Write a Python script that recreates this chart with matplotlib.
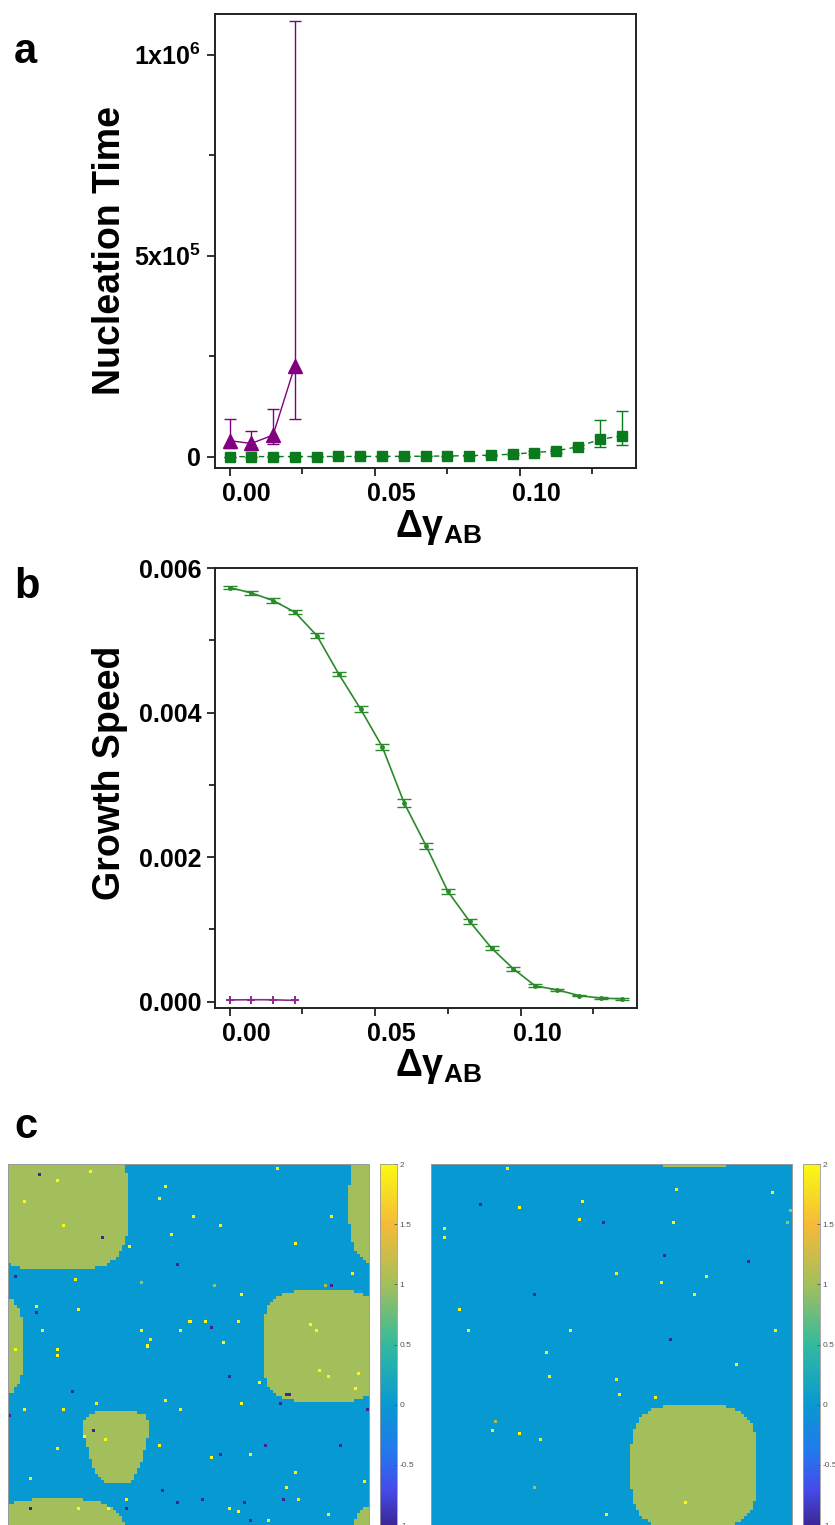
import numpy as np
import matplotlib
matplotlib.use("Agg")
import matplotlib.pyplot as plt
from matplotlib.colors import LinearSegmentedColormap
from matplotlib.ticker import FixedLocator, FormatStrFormatter
from matplotlib.transforms import ScaledTranslation

plt.rcParams['font.family'] = ['Liberation Sans', 'DejaVu Sans']
plt.rcParams['mathtext.fontset'] = 'custom'
plt.rcParams['mathtext.rm'] = 'Liberation Sans:bold'
plt.rcParams['mathtext.bf'] = 'Liberation Sans:bold'
plt.rcParams['mathtext.it'] = 'Liberation Sans:bold'
plt.rcParams['mathtext.default'] = 'bf'

# surface tension difference between species
d_gamma = [0.0, 0.0075, 0.015, 0.0225, 0.03, 0.0375, 0.045, 0.0525, 0.06, 0.0675,
           0.075, 0.0825, 0.09, 0.0975, 0.105, 0.1125, 0.12, 0.1275, 0.135]
d_gamma_slow = [0.0, 0.0075, 0.015, 0.0225]

# nucleation time
nuc_fast = [300, 400, 500, 500, 600, 700, 800, 900, 1100, 1400,
            1900, 2800, 4000, 6500, 10500, 14500, 25000, 43000, 52000]
nuc_fast_lo = [200, 200, 300, 300, 300, 400, 400, 500, 600, 700,
               900, 1200, 1600, 2500, 3500, 4500, 4000, 18000, 23000]
nuc_fast_hi = [200, 200, 300, 300, 300, 400, 400, 500, 600, 700,
               900, 1200, 1600, 2500, 3500, 4500, 4000, 48000, 62000]
nuc_slow = [40000, 33000, 54000, 226000]
nuc_slow_lo = [19000, 16000, 23000, 132000]
nuc_slow_hi = [53000, 31000, 66000, 858000]

# growth speed
speed_fast = [0.00573, 0.005656, 0.00555, 0.005388, 0.005065, 0.004535, 0.00405,
              0.003524, 0.002748, 0.002157, 0.001524, 0.001108, 0.00074, 0.000453,
              0.000217, 0.000162, 0.000083, 0.000047, 0.000037]
speed_fast_err = [0.000025, 0.000025, 0.000035, 0.00003, 0.00004, 0.00003, 0.000045,
                  0.000045, 0.00005, 0.00004, 0.000035, 0.000035, 0.00003, 0.00003,
                  0.00002, 0.000015, 0.00001, 0.00001, 0.00001]
speed_slow = [0.000022, 0.000025, 0.000024, 0.000015]

# lattice snapshots: domains as (col, row, half width, half height, taper)
grid_n = 120
left_domains = [(16.7, 13.3, 23.3, 22.0, 0.0),
                (104.8, 60.5, 20.2, 18.5, 0.0),
                (36.2, 94.2, 12.8, 12.2, 0.5)]
left_bright = [(27, 2), (16, 5), (5, 12), (18, 20), (89, 1), (52, 7), (50, 11), (61, 17),
               (70, 20), (54, 23), (40, 27), (95, 26), (107, 17), (114, 36), (22, 38),
               (77, 43), (9, 47), (23, 48), (11, 55), (44, 55), (57, 55), (60, 52),
               (65, 52), (76, 52), (47, 58), (46, 60), (71, 59), (16, 61), (16, 63),
               (2, 61), (83, 72), (77, 79), (52, 78), (57, 81), (18, 81), (5, 81),
               (29, 79), (50, 93), (16, 94), (7, 104), (80, 96), (67, 97), (95, 102),
               (92, 107), (96, 111), (118, 105), (39, 111), (33, 114), (73, 114),
               (76, 115), (86, 118), (106, 116), (100, 53), (102, 55), (103, 68),
               (106, 70), (116, 69), (115, 74), (25, 90), (32, 91), (23, 114)]
left_dark = [(10, 3), (31, 24), (56, 33), (2, 37), (9, 49), (67, 54), (73, 70), (21, 75),
             (92, 76), (93, 76), (90, 79), (85, 93), (110, 93), (70, 96), (51, 108),
             (56, 112), (64, 111), (78, 112), (91, 111), (39, 114), (80, 118), (0, 83),
             (119, 81), (107, 40), (28, 88), (7, 114)]
left_dim = [(44, 39), (68, 40), (105, 40)]

right_domains = [(87.3, 100.5, 21.0, 20.5, 0.0)]
right_bright = [(25, 1), (29, 14), (50, 12), (49, 18), (81, 8), (80, 19), (113, 9),
                (4, 21), (4, 24), (61, 36), (76, 39), (91, 37), (87, 43), (9, 48),
                (12, 55), (46, 55), (114, 55), (38, 62), (101, 66), (39, 70), (61, 71),
                (62, 76), (74, 77), (20, 88), (29, 89), (36, 91), (58, 116), (84, 112)]
right_dark = [(16, 13), (57, 19), (77, 30), (105, 32), (34, 43), (79, 58)]
right_dim = [(119, 15), (118, 19), (21, 85), (34, 107)]

parula = LinearSegmentedColormap.from_list('parula', [
    (0.0, (0.24, 0.15, 0.60)),
    (0.1, (0.27, 0.30, 0.92)),
    (0.2, (0.14, 0.47, 0.93)),
    (1 / 3, (0.03, 0.60, 0.82)),
    (0.5, (0.20, 0.73, 0.62)),
    (2 / 3, (0.64, 0.75, 0.36)),
    (0.833, (0.96, 0.73, 0.22)),
    (1.0, (0.98, 0.98, 0.07)),
])


def lattice(domains, bright, dark, dim, n=grid_n, p=3.5):
    rows, cols = np.mgrid[0:n, 0:n] + 0.5
    field = np.zeros((n, n))
    for cx, cy, hw, hh, taper in domains:
        dx = (cols - cx + n / 2) % n - n / 2
        dy = (rows - cy + n / 2) % n - n / 2
        t = np.clip((dy + hh) / (2 * hh), 0, 1)
        w = hw * (1 - taper * t)
        field[(np.abs(dx) / w) ** p + (np.abs(dy) / hh) ** p <= 1] = 1
    for c, r in dim:
        field[r, c] = 1
    for c, r in bright:
        field[r, c] = 2
    for c, r in dark:
        field[r, c] = -1
    return field


def style_axes(ax):
    for s in ax.spines.values():
        s.set_linewidth(1.4)
        s.set_color('#222222')
    ax.tick_params(which='both', direction='out', top=False, right=False,
                   width=1.3, color='#222222')
    ax.tick_params(which='major', length=6, labelsize=18, pad=4)
    ax.tick_params(which='minor', length=4)
    ax.xaxis.set_major_locator(FixedLocator([0.0, 0.05, 0.10]))
    ax.xaxis.set_minor_locator(FixedLocator([0.025, 0.075, 0.125]))
    ax.xaxis.set_major_formatter(FormatStrFormatter('%.2f'))
    ax.set_xlim(-0.005, 0.140)
    for lab in ax.get_xticklabels() + ax.get_yticklabels():
        lab.set_fontweight('bold')
    # x tick labels sit a little right of their ticks
    shift = ScaledTranslation(12 / 72, 0, ax.figure.dpi_scale_trans)
    for lab in ax.get_xticklabels():
        lab.set_transform(lab.get_transform() + shift)


fig = plt.figure(figsize=(8.35, 15.25), dpi=100)

# panel a: nucleation time
ax_a = fig.add_axes([0.2575, 0.6931, 0.5042, 0.2977])
ax_a.errorbar(d_gamma, nuc_fast, yerr=[nuc_fast_lo, nuc_fast_hi], color='#0a7a1c',
              ls=(0, (4, 3)), lw=1.0, marker='s', ms=7, capsize=4, elinewidth=1.0,
              capthick=1.0, zorder=3)
ax_a.errorbar(d_gamma_slow, nuc_slow, yerr=[nuc_slow_lo, nuc_slow_hi], color='#800080',
              ls='-', lw=1.0, marker='^', ms=10, capsize=4, elinewidth=1.0,
              capthick=1.0, zorder=4)
ax_a.set_ylim(-28000, 1.101e6)
ax_a.yaxis.set_major_locator(FixedLocator([0, 5e5, 1e6]))
ax_a.yaxis.set_minor_locator(FixedLocator([2.5e5, 7.5e5]))
ax_a.set_yticklabels(['0', r'5x10$^{5}$', r'1x10$^{6}$'])
style_axes(ax_a)
ax_a.set_ylabel('Nucleation Time', fontsize=27, fontweight='bold')
ax_a.yaxis.set_label_coords(-0.207, 0.48)
ax_a.set_xlabel(r'$\Delta\gamma_{AB}$', fontsize=27)
ax_a.xaxis.set_label_coords(0.53, -0.088)
ax_a.xaxis.label.set_va('top')

# panel b: growth speed
ax_b = fig.add_axes([0.2575, 0.3390, 0.5054, 0.2885])
ax_b.errorbar(d_gamma, speed_fast, yerr=speed_fast_err, color='#2a8a2a', ls='-', lw=1.2,
              marker='o', ms=2.5, capsize=5, elinewidth=1.0, capthick=1.0, zorder=3)
ax_b.plot(d_gamma_slow, speed_slow, color='#8a2a8a', lw=1.2, marker='+', ms=6,
          mew=1.4, zorder=4)
ax_b.set_ylim(-0.00009, 0.006)
ax_b.yaxis.set_major_locator(FixedLocator([0.0, 0.002, 0.004, 0.006]))
ax_b.yaxis.set_minor_locator(FixedLocator([0.001, 0.003, 0.005]))
ax_b.yaxis.set_major_formatter(FormatStrFormatter('%.3f'))
style_axes(ax_b)
ax_b.set_ylabel('Growth Speed', fontsize=27, fontweight='bold')
ax_b.yaxis.set_label_coords(-0.207, 0.534)
ax_b.set_xlabel(r'$\Delta\gamma_{AB}$', fontsize=27)
ax_b.xaxis.set_label_coords(0.53, -0.089)
ax_b.xaxis.label.set_va('top')

# panel c: lattice snapshots with colorbars
snapshots = [
    (lattice(left_domains, left_bright, left_dark, left_dim), 0.0096, 0.4551),
    (lattice(right_domains, right_bright, right_dark, right_dim), 0.5162, 0.9617),
]
for field, x_img, x_cb in snapshots:
    ax = fig.add_axes([x_img, 0.0, 0.4323, 0.2367])
    im = ax.imshow(field, cmap=parula, vmin=-1, vmax=2, interpolation='nearest',
                   aspect='auto')
    ax.set_xticks([])
    ax.set_yticks([])
    for s in ax.spines.values():
        s.set_linewidth(0.7)
        s.set_color('#9a9a9a')
    cax = fig.add_axes([x_cb, 0.0, 0.0200, 0.2367])
    cb = fig.colorbar(im, cax=cax, ticks=[-1, -0.5, 0, 0.5, 1, 1.5, 2])
    cb.ax.set_yticklabels(['-1', '-0.5', '0', '0.5', '1', '1.5', '2'])
    cb.ax.tick_params(labelsize=6, colors='#555555', length=2.5, width=0.6,
                      direction='in', pad=2)
    cb.outline.set_linewidth(0.6)
    cb.outline.set_edgecolor('#9a9a9a')

for letter, y in [('a', 0.9587), ('b', 0.6079), ('c', 0.2538)]:
    fig.text(0.017, y, letter, fontsize=30, fontweight='bold', va='baseline')

fig.savefig('out.png', dpi=100)
